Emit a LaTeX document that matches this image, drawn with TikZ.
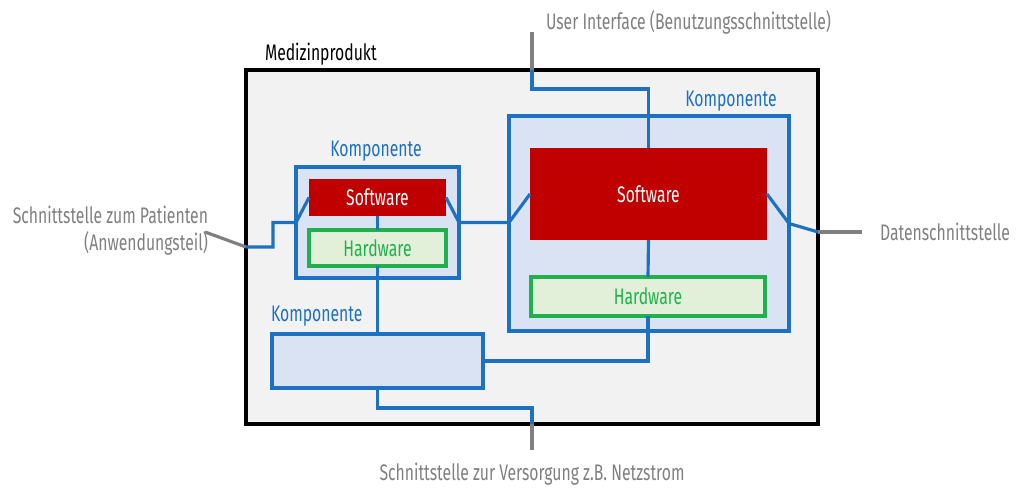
\documentclass[tikz,border=0pt]{standalone}
\usepackage{fontspec}
\setmainfont{Fira Sans}[FakeStretch=0.70]
\usepackage{xcolor}
\usepackage{tikz}
\usetikzlibrary{positioning, calc}

\definecolor{kblue}{HTML}{1E70C0}
\definecolor{kbluefill}{HTML}{DAE3F3}
\definecolor{swred}{HTML}{C00000}
\definecolor{hwgreen}{HTML}{22B04E}
\definecolor{hwfill}{HTML}{E2F0D9}
\definecolor{ifgray}{HTML}{808080}
\definecolor{mpfill}{HTML}{F2F2F2}

\begin{document}
\begin{tikzpicture}[
  x=0.02cm, y=-0.02cm,
  every node/.style={inner sep=0pt, outer sep=0pt},
  txt/.style={font=\fontsize{12.8}{15.5}\selectfont},
  product/.style={draw=black, line width=1.8pt, fill=mpfill},
  komp/.style={draw=kblue, line width=1.8pt, fill=kbluefill},
  swbox/.style={fill=swred, txt, text=white},
  hwbox/.style={draw=hwgreen, line width=1.8pt, fill=hwfill, txt, text=hwgreen},
  klbl/.style={txt, text=kblue},
  iflbl/.style={txt, text=ifgray, align=right},
  link/.style={draw=kblue, line width=1.8pt},
  ifline/.style={draw=ifgray, line width=1.8pt}
]
  \useasboundingbox (0,0) rectangle (1024,502);

  %---------------- MEDIZINPRODUKT ----------------%
  \node[product, minimum width=11.44cm, minimum height=7.08cm] (outer) at (532,247) {};
  \node[txt, anchor=west] (outerlbl) at (265,54) {Medizinprodukt};

  %---------------- LEFT COMPONENT ----------------%
  \node[komp, minimum width=3.26cm, minimum height=2.22cm] (lcomp) at (377.5,222.5) {};
  \node[klbl] (lcomplbl) at (376,151) {Komponente};
  \node[swbox, minimum width=2.74cm, minimum height=0.74cm] (lsw) at (377.5,197.5) {Software};
  \node[hwbox, minimum width=2.74cm, minimum height=0.72cm] (lhw) at (377.5,248) {Hardware};

  %---------------- RIGHT COMPONENT ----------------%
  \node[komp, minimum width=5.6cm, minimum height=4.3cm] (rcomp) at (649,223.5) {};
  \node[klbl] (rcomplbl) at (731,101) {Komponente};
  \node[swbox, minimum width=4.74cm, minimum height=1.84cm] (rsw) at (648.5,194) {Software};
  \node[hwbox, minimum width=4.68cm, minimum height=0.78cm] (rhw) at (648,296.5) {Hardware};

  %---------------- BOTTOM COMPONENT ----------------%
  \node[komp, minimum width=4.22cm, minimum height=1.08cm] (bcomp) at (377.5,361) {};
  \node[klbl, anchor=west] (bcomplbl) at (271,316) {Komponente};

  %---------------- INTERFACES ----------------%
  \coordinate (uiend) at (532,32);
  \coordinate (pwrend) at (532,450);
  \coordinate (patjoin) at (246,247);
  \coordinate (patend) at (205,232);
  \coordinate (datjoin) at (818,232);
  \coordinate (datend) at (862,232);

  \node[iflbl, anchor=west] (uilbl) at (546,22) {User Interface (Benutzungsschnittstelle)};
  \node[iflbl] (pwrlbl) at (532,474) {Schnittstelle zur Versorgung z.B. Netzstrom};
  \node[iflbl, anchor=east] (patlbl) at (208,231) {Schnittstelle zum Patienten\\(Anwendungsteil)};
  \node[iflbl, anchor=west] (datlbl) at (880,232) {Datenschnittstelle};

  %---------------- CONNECTIONS ----------------%
  \draw[link] (lsw.south) -- (lhw.north);
  \draw[link] (lhw.south) -- (bcomp.north);
  \draw[link] (rsw.south) -- (rhw.north);
  \draw[link] (rhw.south) |- (bcomp.east);
  \draw[link] (lsw.east) -- (lcomp.east) -- (rcomp.west |- lcomp.east) -- (rsw.west);
  \draw[link] (outer.north) -- ++(0,19) -| (rsw.north);
  \draw[link] (bcomp.south) -- ++(0,20) -| (outer.south);
  \draw[link] (lsw.west) -- (lcomp.west) -- ++(-23,0) |- (patjoin);
  \draw[link] (rsw.east) -- (rcomp.east) -- (datjoin);

  \draw[ifline] (uiend) -- (outer.north);
  \draw[ifline] (outer.south) -- (pwrend);
  \draw[ifline] (patjoin) -- (patend);
  \draw[ifline] (datjoin) -- (datend);

\end{tikzpicture}
\end{document}
